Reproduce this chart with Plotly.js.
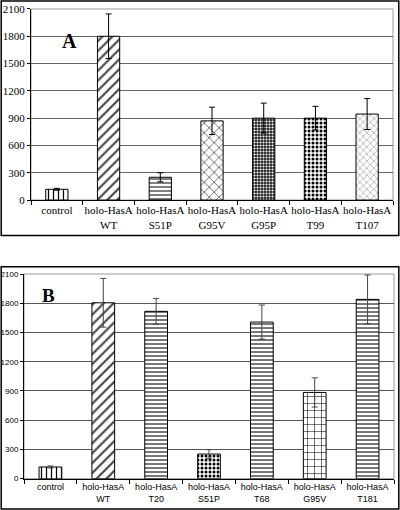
<!DOCTYPE html>
<html><head><meta charset="utf-8">
<script src="https://cdn.plot.ly/plotly-3.0.1.min.js"></script>
<style>body{margin:0;padding:0;background:#fff}#chart{width:400px;height:510px}</style>
</head><body><div id="chart"></div>
<script>
// Panel A
const catsA = ["control","holo-HasA<br>WT","holo-HasA<br>S51P","holo-HasA<br>G95V","holo-HasA<br>G95P","holo-HasA<br>T99","holo-HasA<br>T107"];
const valsA = [118, 1800, 250, 870, 900, 900, 945];
const errA  = [10, 245, 50, 150, 165, 130, 170];
// Panel B
const catsB = ["control","holo-HasA<br>WT","holo-HasA<br>T20","holo-HasA<br>S51P","holo-HasA<br>T68","holo-HasA<br>G95V","holo-HasA<br>T181"];
const valsB = [120, 1805, 1717, 253, 1607, 885, 1840];
const errB  = [10, 250, 132, 45, 175, 150, 250];
const yTicks = [0, 300, 600, 900, 1200, 1500, 1800, 2100];

const patA = {shape:["|","/","-","x",".",".","x"], fgcolor:["#000","#444","#000","#000","#fff","#000","#888"], bgcolor:["#fff","#fff","#fff","#fff","#222","#fff","#fff"], size:[5,7,4,7,3,4,5], solidity:[0.25,0.3,0.25,0.15,0.4,0.45,0.2]};
const patB = {shape:["|","/","-",".","-","+","-"], fgcolor:["#000","#444","#777","#000","#777","#000","#777"], bgcolor:"#fff", size:[5,7,4,4,4,7,4], solidity:[0.25,0.3,0.5,0.45,0.5,0.15,0.5]};

const traces = [
  {type:"bar", x:catsA, y:valsA, xaxis:"x", yaxis:"y", width:0.43,
   marker:{color:"#fff", line:{color:"#000", width:1}, pattern:patA},
   error_y:{type:"data", array:errA, visible:true, color:"#000", thickness:1, width:3},
   showlegend:false, hoverinfo:"skip"},
  {type:"bar", x:catsB, y:valsB, xaxis:"x2", yaxis:"y2", width:0.43,
   marker:{color:"#fff", line:{color:"#000", width:1}, pattern:patB},
   error_y:{type:"data", array:errB, visible:true, color:"#444", thickness:1, width:3},
   showlegend:false, hoverinfo:"skip"}
];

const SERIF = "'Liberation Serif', 'Times New Roman', serif";
const SANS = "'Liberation Sans', Arial, sans-serif";
const serif = {family:SERIF, size:11, color:"#000"};

const layout = {
  width:400, height:510, margin:{l:0,r:0,t:0,b:0},
  paper_bgcolor:"#fff", plot_bgcolor:"#fff", bargap:0.57,
  font:{family:SERIF},
  xaxis:{domain:[0.0775,0.9825], anchor:"y", type:"category", tickfont:serif, tickangle:0,
         showline:true, linecolor:"#000", mirror:false, ticks:"outside", ticklen:4, tickcolor:"#000",
         tickson:"boundaries", showgrid:false, fixedrange:true},
  yaxis:{domain:[0.6078,0.9824], anchor:"x", range:[0,2100], tickvals:yTicks, tickfont:serif,
         showline:true, linecolor:"#000", ticks:"outside", ticklen:3, tickcolor:"#000",
         showgrid:true, gridcolor:"#666", gridwidth:1, zeroline:false, fixedrange:true},
  xaxis2:{domain:[0.06,0.985], anchor:"y2", type:"category", tickfont:{family:SANS, size:9, color:"#000"}, tickangle:0,
         showline:true, linecolor:"#000", ticks:"outside", ticklen:4, tickcolor:"#000",
         tickson:"boundaries", showgrid:false, fixedrange:true},
  yaxis2:{domain:[0.0614,0.4627], anchor:"x2", range:[0,2100], tickvals:yTicks, tickfont:{family:SANS, size:8, color:"#000"},
         showline:true, linecolor:"#000", ticks:"outside", ticklen:3, tickcolor:"#000",
         showgrid:true, gridcolor:"#555", gridwidth:1, zeroline:false, fixedrange:true},
  shapes:[
    {type:"rect", xref:"paper", yref:"paper", x0:0.0775, x1:0.9825, y0:0.6078, y1:0.9824, line:{color:"#999", width:1}, layer:"below"},
    {type:"rect", xref:"paper", yref:"paper", x0:0.06, x1:0.985, y0:0.0614, y1:0.4627, line:{color:"#999", width:1}, layer:"below"},
    {type:"rect", xref:"paper", yref:"paper", x0:0.003, x1:0.997, y0:0.538, y1:0.998, line:{color:"#000", width:1.5}},
    {type:"rect", xref:"paper", yref:"paper", x0:0.003, x1:0.997, y0:0.002, y1:0.477, line:{color:"#000", width:1.5}}
  ],
  annotations:[
    {text:"<b>A</b>", xref:"paper", yref:"paper", x:60/400, y:1-28/510, showarrow:false, font:{family:SERIF, size:20, color:"#000"}},
    {text:"<b>B</b>", xref:"paper", yref:"paper", x:40/400, y:1-295/510, showarrow:false, font:{family:SERIF, size:19, color:"#000"}}
  ]
};
Plotly.newPlot("chart", traces, layout, {staticPlot:true, displayModeBar:false});
</script></body></html>
